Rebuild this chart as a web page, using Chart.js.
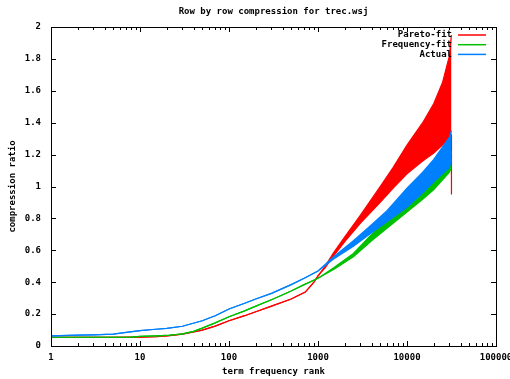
<!DOCTYPE html>
<html>
<head>
<meta charset="utf-8">
<title>Row by row compression for trec.wsj</title>
<script src="https://cdn.jsdelivr.net/npm/chart.js@4.4.1/dist/chart.umd.min.js"></script>
<style>
  html, body { margin: 0; padding: 0; background: #fff; }
  #wrap { width: 510px; height: 379px; }
</style>
</head>
<body>
<div id="wrap"><canvas id="myChart" width="510" height="379"></canvas></div>
<script>
// Pareto-fit (red): ranks, lower and upper edge of the noisy band
const paretoRanks = [1, 2, 5, 10, 15, 20, 30, 40, 50, 70, 100, 150, 200, 300, 500, 720, 900, 1000, 1200, 1500, 2000, 3000, 5000, 7000, 10000, 15000, 20000, 25000, 30000, 31500, 31600];
const paretoHigh = [0.055, 0.055, 0.055, 0.056, 0.058, 0.064, 0.075, 0.088, 0.1, 0.125, 0.158, 0.19, 0.215, 0.25, 0.295, 0.338, 0.4, 0.44, 0.5, 0.585, 0.685, 0.82, 1.0, 1.12, 1.26, 1.4, 1.52, 1.65, 1.82, 1.95, 1.95];
const paretoLow = [0.055, 0.055, 0.055, 0.056, 0.058, 0.064, 0.075, 0.088, 0.1, 0.125, 0.158, 0.19, 0.215, 0.25, 0.295, 0.338, 0.4, 0.44, 0.49, 0.565, 0.655, 0.77, 0.9, 0.99, 1.08, 1.16, 1.21, 1.26, 1.3, 1.32, 0.95];

// Frequency-fit (green)
const freqRanks = [1, 5, 8, 10, 15, 20, 30, 40, 50, 70, 100, 150, 200, 300, 500, 700, 1000, 1500, 2500, 4000, 6000, 10000, 15000, 20000, 30000, 31600];
const freqHigh = [0.055, 0.055, 0.056, 0.06, 0.063, 0.066, 0.076, 0.092, 0.112, 0.145, 0.183, 0.22, 0.25, 0.29, 0.345, 0.385, 0.425, 0.49, 0.58, 0.7, 0.79, 0.91, 1.0, 1.07, 1.18, 1.22];
const freqLow = [0.055, 0.055, 0.056, 0.06, 0.063, 0.066, 0.076, 0.092, 0.112, 0.145, 0.183, 0.22, 0.25, 0.29, 0.345, 0.385, 0.425, 0.48, 0.56, 0.66, 0.74, 0.84, 0.92, 0.98, 1.09, 1.12];

// Actual (blue)
const actualRanks = [1, 2, 3, 5, 7, 10, 15, 20, 30, 50, 70, 100, 150, 200, 300, 500, 700, 1000, 1500, 2500, 4000, 6000, 10000, 15000, 20000, 30000, 31600];
const actualHigh = [0.063, 0.068, 0.07, 0.075, 0.086, 0.096, 0.105, 0.111, 0.124, 0.158, 0.19, 0.232, 0.268, 0.295, 0.33, 0.385, 0.425, 0.47, 0.56, 0.66, 0.76, 0.85, 0.99, 1.09, 1.17, 1.31, 1.35];
const actualLow = [0.063, 0.068, 0.07, 0.075, 0.086, 0.096, 0.105, 0.111, 0.124, 0.158, 0.19, 0.232, 0.268, 0.295, 0.33, 0.385, 0.425, 0.47, 0.545, 0.625, 0.71, 0.78, 0.87, 0.96, 1.03, 1.12, 1.17];

// Axis ticks
const xTickValues = [1, 10, 100, 1000, 10000, 100000];
const yTickStep = 0.2;

// Legend entries in gnuplot order
const seriesNames = ["Pareto-fit", "Frequency-fit", "Actual"];
const seriesColors = ["#ff0000", "#00c000", "#0080ff"];

const chartTitle = "Row by row compression for trec.wsj";
const fontFamily = "'DejaVu Sans Mono', 'Liberation Mono', monospace";
Chart.defaults.font.family = fontFamily;
Chart.defaults.font.size = 9;
Chart.defaults.font.weight = "bold";
Chart.defaults.color = "#000";

// Turns ranks + values into {x, y} points
function toPoints(ranks, values) {
  return ranks.map((r, i) => ({ x: r, y: values[i] }));
}

// Two datasets per series: the upper edge and the lower edge filled up to it
function makeBand(name, color, ranks, low, high, order) {
  return [
    {
      label: name,
      data: toPoints(ranks, high),
      borderColor: color,
      backgroundColor: color,
      borderWidth: 1.2,
      pointRadius: 0,
      fill: false,
      order: order,
    },
    {
      label: name + " low",
      data: toPoints(ranks, low),
      borderColor: color,
      backgroundColor: color,
      borderWidth: 1.2,
      pointRadius: 0,
      fill: "-1",
      order: order,
    },
  ];
}

// Title, border, inward ticks on all sides and the gnuplot-like legend
const gnuplotFrame = {
  id: "gnuplotFrame",
  afterDatasetsDraw(chart) {
    const ctx = chart.ctx;
    const area = chart.chartArea;
    const xs = chart.scales.x;
    const ys = chart.scales.y;
    ctx.save();

    // title centred over the plot area
    ctx.font = "bold 9px " + fontFamily;
    ctx.fillStyle = "#000";
    ctx.textAlign = "center";
    ctx.textBaseline = "middle";
    ctx.fillText(chartTitle, (area.left + area.right) / 2, 11.5);

    ctx.strokeStyle = "#000";
    ctx.lineWidth = 1;
    ctx.beginPath();
    // x ticks: majors at powers of ten, minors at 2..9
    for (let d = 0; d < 5; d++) {
      for (let m = 1; m < 10; m++) {
        const v = Math.pow(10, d) * m;
        const px = Math.round(xs.getPixelForValue(v)) + 0.5;
        const len = m === 1 ? 5 : 3;
        ctx.moveTo(px, area.bottom);
        ctx.lineTo(px, area.bottom - len);
        ctx.moveTo(px, area.top);
        ctx.lineTo(px, area.top + len);
      }
    }
    // y ticks
    ys.ticks.forEach((t) => {
      const py = Math.round(ys.getPixelForValue(t.value)) + 0.5;
      ctx.moveTo(area.left, py);
      ctx.lineTo(area.left + 5, py);
      ctx.moveTo(area.right, py);
      ctx.lineTo(area.right - 5, py);
    });
    ctx.stroke();
    ctx.strokeRect(
      Math.round(area.left) + 0.5,
      Math.round(area.top) + 0.5,
      Math.round(area.right - area.left),
      Math.round(area.bottom - area.top)
    );

    // legend
    ctx.textAlign = "right";
    seriesNames.forEach((name, i) => {
      const y = area.top + 8 + i * 9.7;
      ctx.fillText(name, area.right - 44, y);
      ctx.strokeStyle = seriesColors[i];
      ctx.lineWidth = 1.5;
      ctx.beginPath();
      ctx.moveTo(area.right - 38, y);
      ctx.lineTo(area.right - 10, y);
      ctx.stroke();
    });
    ctx.restore();
  },
};

const canvas = document.getElementById("myChart");
const ctx = canvas.getContext("2d");

const datasets = []
  .concat(makeBand(seriesNames[0], seriesColors[0], paretoRanks, paretoLow, paretoHigh, 3))
  .concat(makeBand(seriesNames[1], seriesColors[1], freqRanks, freqLow, freqHigh, 2))
  .concat(makeBand(seriesNames[2], seriesColors[2], actualRanks, actualLow, actualHigh, 1));

const chart = new Chart(ctx, {
  type: "line",
  data: { datasets: datasets },
  options: {
    responsive: false,
    animation: false,
    devicePixelRatio: 1,
    events: [],
    layout: { padding: { left: 0, right: 14, top: 27, bottom: 0 } },
    elements: { line: { tension: 0 } },
    plugins: {
      legend: { display: false },
      tooltip: { enabled: false },
      title: { display: false },
    },
    scales: {
      x: {
        type: "logarithmic",
        min: 1,
        max: 100000,
        grid: { display: false, drawTicks: false },
        border: { display: false },
        afterBuildTicks(scale) {
          scale.ticks = xTickValues.map((v) => ({ value: v }));
        },
        ticks: {
          autoSkip: false,
          maxRotation: 0,
          padding: 6,
          callback: (v) => String(v),
        },
        title: {
          display: true,
          text: "term frequency rank",
          padding: { top: 2, bottom: 1.6 },
        },
        afterFit(scale) {
          scale.height = 33;
          scale.paddingLeft = 0;
          scale.paddingRight = 0;
        },
      },
      y: {
        min: 0,
        max: 2,
        grid: { display: false, drawTicks: false },
        border: { display: false },
        ticks: {
          stepSize: yTickStep,
          padding: 10,
          callback: (v) => String(Number(v.toFixed(1))),
        },
        title: {
          display: true,
          text: "compression ratio",
          padding: { top: 7.6, bottom: 0 },
        },
        afterFit(scale) {
          scale.width = 51;
          scale.paddingTop = 0;
        },
      },
    },
  },
  plugins: [gnuplotFrame],
});
</script>
</body>
</html>
